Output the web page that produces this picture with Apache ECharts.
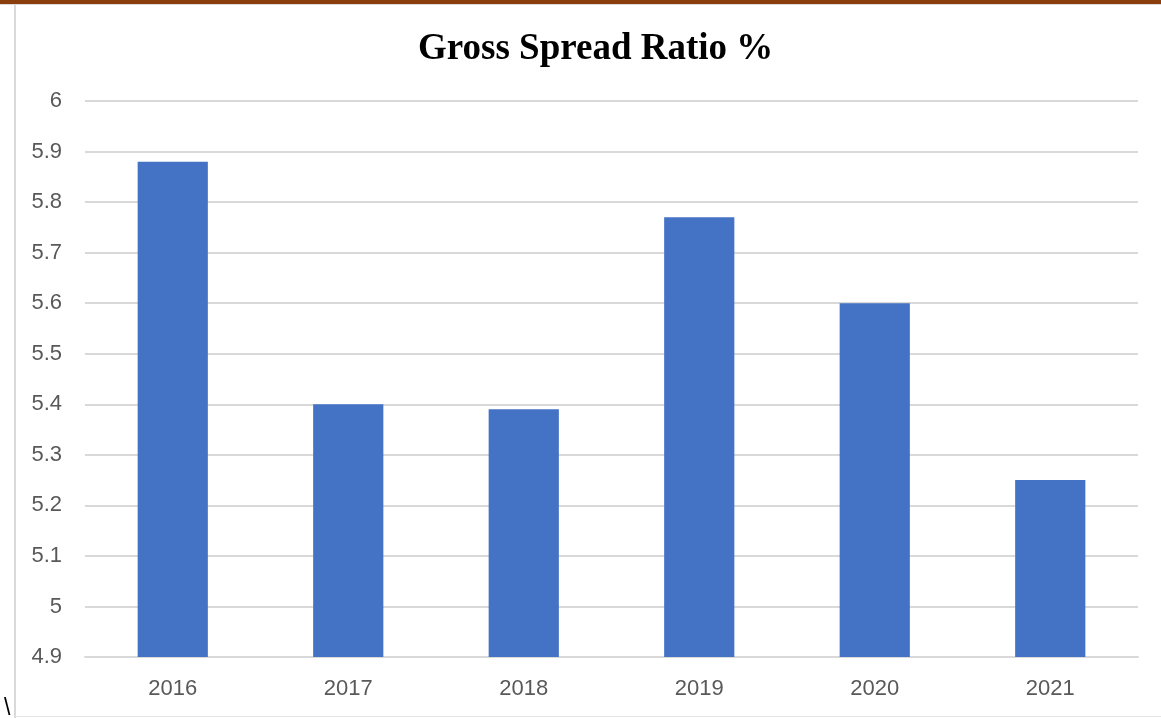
<!DOCTYPE html>
<html>
<head>
<meta charset="utf-8">
<script src="https://cdn.jsdelivr.net/npm/echarts@6/dist/echarts.min.js"></script>
<style>
  html, body { margin: 0; padding: 0; background: #fff; }
  #wrap { position: relative; width: 1161px; height: 718px; overflow: hidden; }
  #topbar { position: absolute; left: 0; top: 0; width: 1161px; height: 4px; background: #8a3e0b; }
  #topshadow { position: absolute; left: 0; top: 4px; width: 1161px; height: 1px; background: #d9d9d9; }
  #leftline { position: absolute; left: 14px; top: 5px; width: 2px; height: 713px; background: #d9d9d9; }
  #bottomline { position: absolute; left: 15px; top: 716px; width: 1146px; height: 1px; background: #e6e6e6; }
  #slash { position: absolute; left: 4px; top: 696px; font: 23px "Liberation Sans", sans-serif; line-height: 23px; color: #000; }
  #chart { position: absolute; left: 0; top: 0; width: 1161px; height: 718px; }
</style>
</head>
<body>
<div id="wrap">
  <div id="chart"></div>
  <div id="topbar"></div>
  <div id="topshadow"></div>
  <div id="leftline"></div>
  <div id="bottomline"></div>
  <div id="slash">\</div>
</div>
<script>
const titleText = 'Gross Spread Ratio %';
const categories = ['2016', '2017', '2018', '2019', '2020', '2021'];
const values = [5.88, 5.40, 5.39, 5.77, 5.60, 5.25];
const yMin = 4.9, yMax = 6.0, yStep = 0.1;

const chart = echarts.init(document.getElementById('chart'), null, { renderer: 'canvas' });
chart.setOption({
  backgroundColor: '#fff',
  animation: false,
  title: {
    text: titleText,
    left: 413,
    top: 26,
    textStyle: { fontFamily: '"Liberation Serif", "Times New Roman", serif', fontWeight: 'bold', fontSize: 37, color: '#000' }
  },
  grid: { left: 85, right: 23, top: 101, bottom: 61, containLabel: false },
  xAxis: {
    type: 'category',
    data: categories,
    axisLine: { lineStyle: { color: '#d9d9d9', width: 2 } },
    axisTick: { show: false },
    axisLabel: { color: '#595959', fontSize: 22, fontFamily: '"Liberation Sans", sans-serif', margin: 21 }
  },
  yAxis: {
    type: 'value',
    min: yMin, max: yMax, interval: yStep,
    axisLine: { show: false },
    axisTick: { show: false },
    splitLine: { lineStyle: { color: '#d9d9d9', width: 2 } },
    axisLabel: {
      color: '#595959', fontSize: 22, fontFamily: '"Liberation Sans", sans-serif', margin: 23,
      formatter: v => String(+v.toFixed(1))
    }
  },
  series: [{
    type: 'bar',
    data: values,
    barWidth: '40%',
    itemStyle: { color: '#4472c4' }
  }]
});
</script>
</body>
</html>
